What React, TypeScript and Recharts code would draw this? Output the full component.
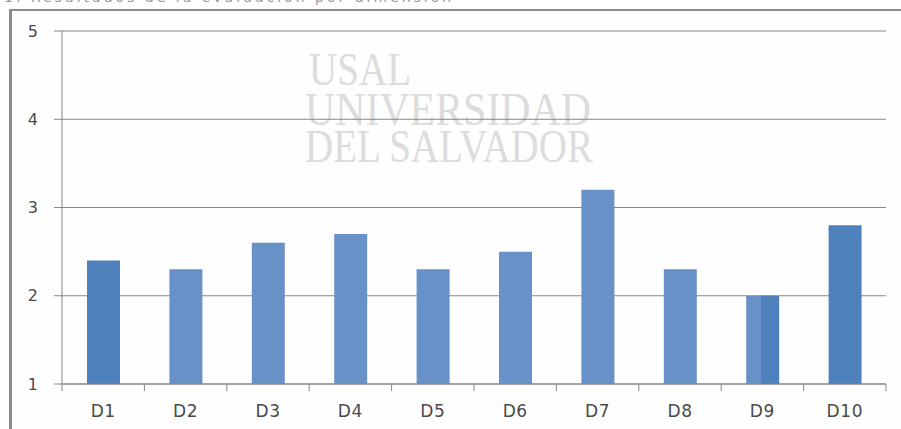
import React from 'react';
import { BarChart, Bar, XAxis, YAxis, CartesianGrid, Cell } from 'recharts';

// Scores per dimension
const DIMENSIONS = ['D1', 'D2', 'D3', 'D4', 'D5', 'D6', 'D7', 'D8', 'D9', 'D10'];
const SCORES = [2.4, 2.3, 2.6, 2.7, 2.3, 2.5, 3.2, 2.3, 2.0, 2.8];
const Y_TICKS = [1, 2, 3, 4, 5];
const WATERMARK = ['USAL', 'UNIVERSIDAD', 'DEL SALVADOR'];

const DARK = '#4f81bd';
const LIGHT = '#6791c7';
const BAR_FILLS = [DARK, LIGHT, LIGHT, LIGHT, LIGHT, LIGHT, LIGHT, LIGHT, 'url(#halfFill)', DARK];

const AXIS_GREY = '#878787';
const TEXT_GREY = '#4a4a4a';

const data = DIMENSIONS.map((name, i) => ({ name, score: SCORES[i] }));

function CategoryTick(props: any) {
  const { x, y, payload, index } = props;
  const half = payload?.offset || 41.2;
  const last = index === DIMENSIONS.length - 1;
  return (
    <g>
      <line x1={x - half} x2={x - half} y1={y} y2={y + 7} stroke={AXIS_GREY} />
      {last && <line x1={x + half} x2={x + half} y1={y} y2={y + 7} stroke={AXIS_GREY} />}
      <text
        x={x}
        y={y + 33}
        textAnchor="middle"
        fill={TEXT_GREY}
        fontSize={17}
        letterSpacing={0.6}
        fontFamily="DejaVu Sans"
      >
        {payload.value}
      </text>
    </g>
  );
}

export default function App() {
  return (
    <div
      style={{
        position: 'absolute',
        left: 0,
        top: 0,
        width: 901,
        height: 429,
        overflow: 'hidden',
        background: '#ffffff',
      }}
    >
      {/* cut-off heading above the frame */}
      <div
        style={{
          position: 'absolute',
          left: 4,
          top: -11,
          fontFamily: 'DejaVu Sans',
          fontSize: 14,
          lineHeight: '16px',
          color: '#9a9a9a',
          letterSpacing: 3,
          whiteSpace: 'nowrap',
        }}
      >
        1. Resultados de la evaluación por dimensión
      </div>

      {/* frame */}
      <div
        style={{
          position: 'absolute',
          left: 9,
          top: 9,
          width: 1000,
          height: 500,
          borderLeft: '3px solid #8d8d8d',
          borderTop: '2px solid #8d8d8d',
          background: '#fefefe',
        }}
      />

      {/* watermark */}
      <svg width={901} height={429} style={{ position: 'absolute', left: 0, top: 0 }}>
        <g fill="#dcdcdc" fontFamily="Liberation Serif" fontSize={46}>
          <text x={309} y={85} textLength={102} lengthAdjust="spacingAndGlyphs">
            {WATERMARK[0]}
          </text>
          <text x={305} y={125} textLength={286} lengthAdjust="spacingAndGlyphs">
            {WATERMARK[1]}
          </text>
          <text x={305} y={162} textLength={288} lengthAdjust="spacingAndGlyphs">
            {WATERMARK[2]}
          </text>
        </g>
      </svg>

      <div style={{ position: 'absolute', left: 0, top: 0 }}>
        <BarChart
          width={901}
          height={429}
          data={data}
          margin={{ top: 31, right: 15, bottom: 0, left: 0 }}
          barSize={33}
        >
          <defs>
            <linearGradient id="halfFill" x1="0" y1="0" x2="1" y2="0">
              <stop offset="0%" stopColor={LIGHT} />
              <stop offset="45%" stopColor={LIGHT} />
              <stop offset="45%" stopColor={DARK} />
              <stop offset="100%" stopColor={DARK} />
            </linearGradient>
          </defs>
          <CartesianGrid vertical={false} stroke={AXIS_GREY} />
          <XAxis
            dataKey="name"
            height={45}
            axisLine={{ stroke: AXIS_GREY }}
            tickLine={false}
            tickSize={0}
            tickMargin={0}
            interval={0}
            tick={<CategoryTick />}
          />
          <YAxis
            width={62}
            domain={[1, 5]}
            ticks={Y_TICKS}
            allowDataOverflow
            axisLine={{ stroke: AXIS_GREY }}
            tickLine={{ stroke: AXIS_GREY }}
            tickSize={8}
            tickMargin={16}
            tick={{ fill: TEXT_GREY, fontSize: 16, fontFamily: 'DejaVu Sans' }}
          />
          <Bar dataKey="score" isAnimationActive={false}>
            {data.map((d, i) => (
              <Cell key={d.name} fill={BAR_FILLS[i]} />
            ))}
          </Bar>
        </BarChart>
      </div>
    </div>
  );
}
